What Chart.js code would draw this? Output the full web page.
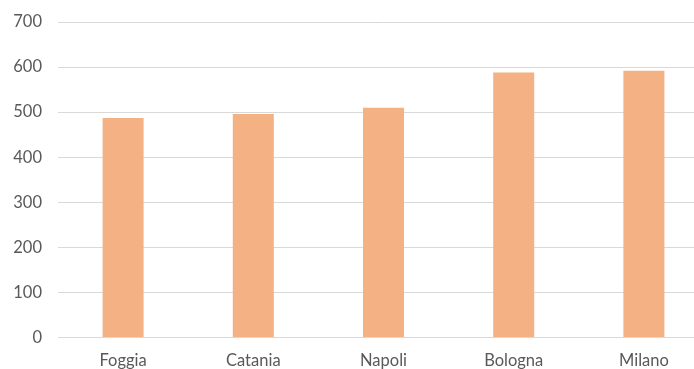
<!DOCTYPE html>
<html>
<head>
<meta charset="utf-8">
<script src="https://cdn.jsdelivr.net/npm/chart.js@4"></script>
<style>
  html, body { margin: 0; padding: 0; background: #ffffff; overflow: hidden; }
  #wrap { position: relative; width: 709px; height: 369px; }
</style>
</head>
<body>
<div id="wrap"><canvas id="c"></canvas></div>
<script>
// Città e valori
const categories = ['Foggia', 'Catania', 'Napoli', 'Bologna', 'Milano'];
const values = [487, 496, 510, 588, 592];
const yTicks = [0, 100, 200, 300, 400, 500, 600, 700];

const textColor = '#595959';
const gridColor = '#d9d9d9';
const fontFamily = 'Lato, "Noto Sans", sans-serif';
const fontSize = 16.5;

new Chart(document.getElementById('c'), {
  type: 'bar',
  data: {
    labels: categories,
    datasets: [{
      data: values,
      backgroundColor: '#f4b183',
      borderWidth: 0,
      barPercentage: 0.315,
      categoryPercentage: 1.0
    }]
  },
  options: {
    responsive: true,
    maintainAspectRatio: false,
    animation: false,
    layout: { padding: { top: 22, right: 0, left: 0, bottom: 0 } },
    plugins: { legend: { display: false }, tooltip: { enabled: false } },
    scales: {
      x: {
        grid: { display: false, drawTicks: false },
        border: { display: true, color: gridColor, width: 1 },
        ticks: { color: textColor, font: { family: fontFamily, size: fontSize }, padding: 13 },
        afterFit: (s) => { s.height = 31.5; s.paddingLeft = 0; s.paddingRight = 0; }
      },
      y: {
        min: 0,
        max: 700,
        afterBuildTicks: (s) => { s.ticks = yTicks.map(v => ({ value: v })); },
        grid: { color: gridColor, lineWidth: 1, drawTicks: false },
        border: { display: false },
        ticks: { color: textColor, font: { family: fontFamily, size: fontSize }, padding: 16 },
        afterFit: (s) => { s.width = 58; s.paddingTop = 0; s.paddingBottom = 0; }
      }
    }
  }
});
</script>
</body>
</html>
